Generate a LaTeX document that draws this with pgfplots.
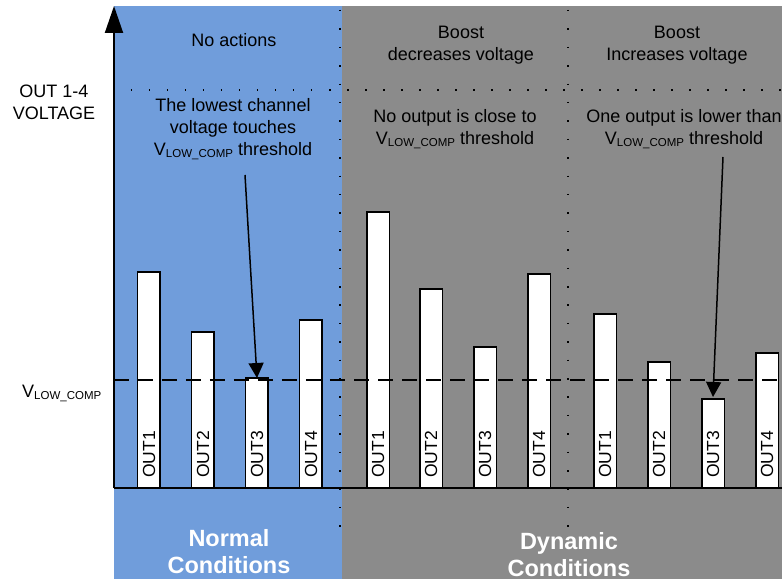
\documentclass[border=0pt]{standalone}
\usepackage{pgfplots}
\usepackage{pgfplotstable}
\pgfplotsset{compat=1.18}
\usepackage{fontspec}
\setmainfont{Liberation Sans}
\usetikzlibrary{arrows.meta}

\definecolor{normalblue}{RGB}{112,157,219}
\definecolor{dyngray}{RGB}{139,139,139}

% bar position (x) and voltage (v, same units as the axis)
\pgfplotstableread{
x    v    name
149  216  OUT1
203  156  OUT2
257  110  OUT3
311  168  OUT4
378  276  OUT1
431  199  OUT2
485  141  OUT3
539  214  OUT4
605  174  OUT1
659  126  OUT2
713  89   OUT3
767  135  OUT4
}\bars

\newcommand{\vlow}{V\raisebox{-2.5pt}{\fontsize{11.5}{11.5}\selectfont LOW\_COMP}}
\tikzset{
    lbl/.style={font=\fontsize{18}{22}\selectfont, align=center},
    cond/.style={text=white, font=\fontsize{23.5}{27}\selectfont\bfseries, align=center},
}

\begin{document}
\begin{tikzpicture}
\begin{axis}[
    scale only axis,
    width=668pt, height=482pt,
    xmin=114, xmax=782, ymin=0, ymax=482,
    clip=false,
    axis on top,
    axis x line*=bottom,
    axis y line*=left,
    axis line style={line width=2pt},
    y axis line style={-{Triangle[width=18pt,length=27pt]}},
    ytick=\empty,
    xtick=data,
    xticklabels from table={\bars}{name},
    major tick length=0pt,
    xticklabel style={rotate=90, anchor=west, inner xsep=10pt,
        font=\fontsize{17.5}{20}\selectfont},
]
% condition backgrounds
\fill[normalblue] (axis cs:114,-91) rectangle (axis cs:342,482);
\fill[dyngray] (axis cs:342,-91) rectangle (axis cs:782,482);

% dotted separators
\draw[line width=1.5pt, dash pattern=on 1.5pt off 16.5pt] (axis cs:131,398) -- (axis cs:782,398);
\draw[line width=1.5pt, dash pattern=on 1.5pt off 16.9pt] (axis cs:340,478) -- (axis cs:340,-46);
\draw[line width=1.5pt, dash pattern=on 1.5pt off 16.9pt] (axis cs:568,478) -- (axis cs:568,-46);

\addplot[ybar, bar width=22.5, fill=white, draw=black, line width=1.5pt]
    table[x=x, y=v] {\bars};

% V_LOW_COMP threshold
\draw[line width=1.4pt, dash pattern=on 15pt off 9pt] (axis cs:114,108) -- (axis cs:782,108);

% annotations
\node[lbl] at (axis cs:234,448) {No actions};
\node[lbl] at (axis cs:461,443) {Boost\\decreases voltage};
\node[lbl] at (axis cs:677,443) {Boost\\Increases voltage};
\node[lbl] at (axis cs:233,359) {The lowest channel\\voltage touches\\\vlow{} threshold};
\node[lbl] at (axis cs:455,359) {No output is close to\\\vlow{} threshold};
\node[lbl] at (axis cs:684,359) {One output is lower than\\\vlow{} threshold};
\node[lbl] at (axis cs:54,386) {OUT 1-4\\VOLTAGE};
\node[lbl, anchor=base west, inner sep=0pt] at (axis cs:22,91) {\vlow};

\draw[line width=1.5pt, -{Triangle[width=15pt,length=15pt]}] (axis cs:245,313) -- (axis cs:257,110);
\draw[line width=1.5pt, -{Triangle[width=15pt,length=15pt]}] (axis cs:723,331) -- (axis cs:713,91);

\node[cond] at (axis cs:229,-64) {Normal\\Conditions};
\node[cond] at (axis cs:569,-67) {Dynamic\\Conditions};

\coordinate (bl) at (axis cs:0,-91);
\coordinate (tr) at (axis cs:782,488);
\end{axis}
\pgfresetboundingbox
\path[use as bounding box] (bl) rectangle (tr);
\end{tikzpicture}
\end{document}
